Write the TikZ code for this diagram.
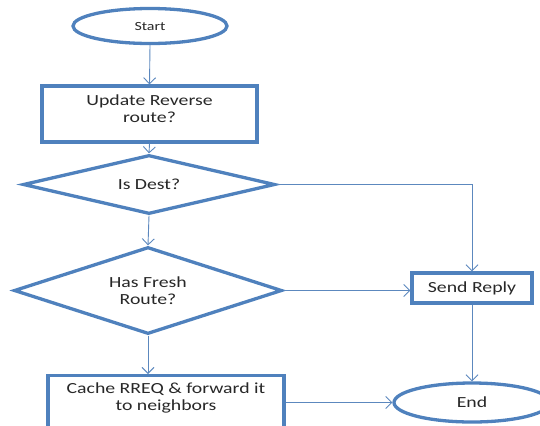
\documentclass[tikz,border=0pt]{standalone}
\usepackage{fontspec}
\setmainfont[FakeStretch=1.28]{Carlito}
\usepackage{xcolor}
\usepackage{tikz}
\usetikzlibrary{arrows.meta,positioning,shapes.geometric}
\definecolor{flowblue}{RGB}{79,129,189}
\definecolor{linkblue}{RGB}{92,136,190}
\definecolor{txtgray}{RGB}{40,40,40}

\begin{document}
\begin{tikzpicture}[
  x=1bp, y=-1bp,
  font=\fontsize{15.5}{17}\selectfont,
  shapeline/.style={draw=flowblue, line width=3.3bp, fill=white, text=txtgray, inner sep=0pt, align=center},
  box/.style={shapeline, rectangle},
  term/.style={shapeline, ellipse},
  decide/.style={shapeline, diamond, aspect=4},
  >={Straight Barb[length=6bp, width=12bp]},
  arrline/.style={->, draw=linkblue, line width=0.9bp},
]
\clip (0,0) rectangle (540,425);
\node[term, minimum width=154bp, minimum height=35bp, font=\fontsize{12.5}{14}\selectfont] (start) at (150,26) {Start};
\node[box, minimum width=215bp, minimum height=56bp] (update) at (149.5,114) {Update Reverse\\route?\\[-6bp]\mbox{}};
\node[decide, minimum width=252bp, minimum height=59bp] (isdest) at (149,184.5) {Is Dest?};
\node[decide, minimum width=268bp, minimum height=87bp] (fresh) at (148,290.5) {Has Fresh\\Route?};
\node[box, minimum width=236bp, anchor=north, inner ysep=7bp] (cache) at (166,374) {Cache RREQ \& forward it\\to neighbors\\[16bp]\mbox{}};
\node[box, minimum width=120bp, minimum height=30bp] (reply) at (472,288) {Send Reply};
\node[term, minimum width=156bp, minimum height=39bp] (stop) at (472,402.5) {End};
\draw[arrline] (start.south) -- (update.north);
\draw[arrline] (update.south) -- (isdest.north);
\draw[arrline] (isdest.south) -- (fresh.north);
\draw[arrline] (isdest.east) -| (reply.north);
\draw[arrline] (fresh.east) -- (fresh.east -| reply.west);
\draw[arrline] (fresh.south) -- (fresh.south |- cache.north);
\draw[arrline] (reply.south) -- (stop.north);
\draw[arrline] (stop.west -| cache.east) -- (stop.west);
\end{tikzpicture}
\end{document}
